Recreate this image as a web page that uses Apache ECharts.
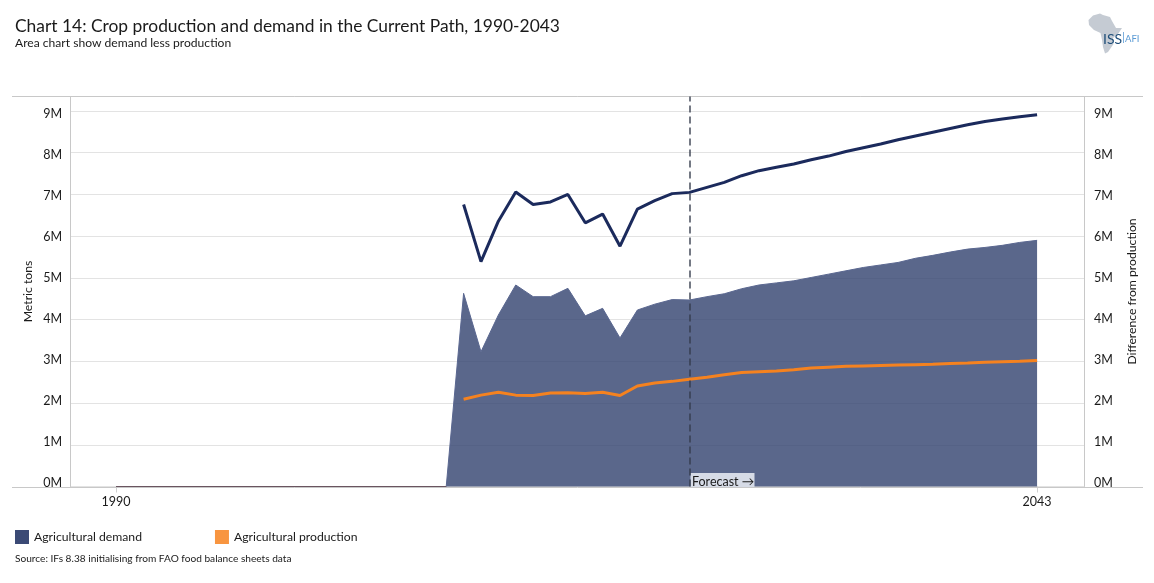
<!DOCTYPE html>
<html>
<head>
<meta charset="utf-8">
<style>html,body{margin:0;padding:0;background:#fff}#c{width:1154px;height:583px}</style>
<script src="https://cdn.jsdelivr.net/npm/echarts@6/dist/echarts.min.js"></script>
</head>
<body>
<div id="c"></div>
<script>
var years = [2010,2011,2012,2013,2014,2015,2016,2017,2018,2019,2020,2021,2022,2023,2024,2025,2026,2027,2028,2029,2030,2031,2032,2033,2034,2035,2036,2037,2038,2039,2040,2041,2042,2043];
var demand = [6.76,5.39,6.36,7.06,6.76,6.82,7.0,6.32,6.53,5.76,6.65,6.85,7.02,7.05,7.17,7.29,7.45,7.57,7.65,7.73,7.83,7.92,8.03,8.12,8.21,8.31,8.40,8.49,8.58,8.67,8.75,8.81,8.86,8.91];
var production = [2.09,2.19,2.26,2.19,2.18,2.24,2.25,2.23,2.26,2.18,2.41,2.48,2.52,2.57,2.62,2.68,2.73,2.75,2.77,2.80,2.84,2.86,2.88,2.89,2.90,2.91,2.92,2.93,2.95,2.96,2.98,2.99,3.00,3.02];
var difference = [4.63,3.23,4.11,4.83,4.55,4.55,4.75,4.09,4.27,3.56,4.23,4.37,4.48,4.47,4.55,4.62,4.74,4.83,4.88,4.93,5.01,5.09,5.17,5.25,5.31,5.37,5.47,5.54,5.62,5.69,5.73,5.78,5.85,5.90];
var zeroYears = [1990,1991,1992,1993,1994,1995,1996,1997,1998,1999,2000,2001,2002,2003,2004,2005,2006,2007,2008,2009];
var xTickLabels = [1990,2043];
var forecastYear = 2023;
var FONT = 'Lato';

var pairs = function(xs, ys){ return xs.map(function(x,i){ return [x, ys[i]]; }); };
var zeroData = zeroYears.map(function(y){ return [y,0]; });
var areaData = zeroData.concat(pairs(years, difference));

var xBase = {type:'value', min:1987.35, max:2045.7, splitLine:{show:false}};
var labelColor = '#1a1a1a';

var chart = echarts.init(document.getElementById('c'), null, {renderer:'canvas'});
chart.setOption({
  animation:false,
  backgroundColor:'#fff',
  textStyle:{fontFamily:FONT},
  grid:[
    {left:70, right:70, top:96.5, height:390},
    {left:70, right:70, top:114, height:369}
  ],
  xAxis:[
    Object.assign({}, xBase, {
      gridIndex:0,
      axisLine:{show:false},
      axisTick:{show:true, customValues:xTickLabels, length:6, lineStyle:{color:'#d0d0d0'}},
      axisLabel:{show:true, customValues:xTickLabels, margin:9, fontSize:12.5, color:labelColor, fontFamily:FONT,
        formatter:function(v){return String(v);}}
    }),
    Object.assign({}, xBase, {gridIndex:1, show:false})
  ],
  yAxis:[
    {type:'value', gridIndex:0, min:0, max:9.348, interval:1, position:'left',
      name:'Metric tons', nameLocation:'middle', nameGap:36, nameRotate:90,
      nameTextStyle:{fontSize:12.2, color:labelColor, fontFamily:FONT},
      axisLine:{show:true, lineStyle:{color:'#c8c8c8'}}, axisTick:{show:false}, axisLabel:{show:false},
      splitLine:{show:true, lineStyle:{color:'#e3e3e3', width:1}}},
    {type:'value', gridIndex:0, min:0, max:9.348, interval:1, position:'right',
      name:'Difference from production', nameLocation:'middle', nameGap:42, nameRotate:90,
      nameTextStyle:{fontSize:12.2, color:labelColor, fontFamily:FONT},
      axisLine:{show:true, lineStyle:{color:'#c8c8c8'}}, axisTick:{show:false}, axisLabel:{show:false},
      splitLine:{show:false}},
    {type:'value', gridIndex:1, min:0, max:9, interval:1, position:'left',
      axisLine:{show:false}, axisTick:{show:false}, splitLine:{show:false},
      axisLabel:{show:true, margin:8, fontSize:12.5, color:labelColor, fontFamily:FONT,
        formatter:function(v){return v+'M';}}},
    {type:'value', gridIndex:1, min:0, max:9, interval:1, position:'right',
      axisLine:{show:false}, axisTick:{show:false}, splitLine:{show:false},
      axisLabel:{show:true, margin:10, fontSize:12.5, color:labelColor, fontFamily:FONT,
        formatter:function(v){return v+'M';}}}
  ],
  legend:{
    left:15, top:530, padding:0, orient:'horizontal', itemWidth:14, itemHeight:14, itemGap:73, icon:'rect',
    textStyle:{fontSize:12.2, color:'#1a1a1a', fontFamily:FONT, padding:[4,0,0,0]},
    data:[
      {name:'Agricultural demand', icon:'rect', itemStyle:{color:'#3b4a75', opacity:1}, lineStyle:{width:0,opacity:0}},
      {name:'Agricultural production', icon:'rect', itemStyle:{color:'#f89540', opacity:1}, lineStyle:{width:0,opacity:0}}
    ]
  },
  series:[
    {name:'Demand less production', type:'line', xAxisIndex:0, yAxisIndex:1, data:areaData, showSymbol:false, symbol:'none',
      lineStyle:{color:'#5a6790', width:1}, itemStyle:{color:'#3b4a75'},
      areaStyle:{color:'#344470', opacity:0.81}, z:2,
      markLine:{silent:true, symbol:'none', animation:false, label:{show:false},
        lineStyle:{color:'#333a4a', type:[7,4], width:1.6, opacity:.85},
        data:[{xAxis:forecastYear}]}},
    {name:'Zero baseline', type:'line', xAxisIndex:0, yAxisIndex:1, data:zeroData, showSymbol:false, symbol:'none',
      lineStyle:{color:'#6a5560', width:1.2}, z:3},
    {name:'Agricultural demand', type:'line', xAxisIndex:0, yAxisIndex:0, data:pairs(years,demand), showSymbol:false, symbol:'none',
      lineStyle:{color:'#1b2a5c', width:3}, itemStyle:{color:'#1b2a5c'}, z:4},
    {name:'Agricultural production', type:'line', xAxisIndex:0, yAxisIndex:0, data:pairs(years,production), showSymbol:false, symbol:'none',
      lineStyle:{color:'#f5821f', width:3}, itemStyle:{color:'#f5821f'}, z:4}
  ],
  graphic:[
    {type:'line', z:1, shape:{x1:12,y1:96.5,x2:1143,y2:96.5}, style:{stroke:'#c8c8c8',lineWidth:1}},
    {type:'line', z:1, shape:{x1:12,y1:487.5,x2:1143,y2:487.5}, style:{stroke:'#c8c8c8',lineWidth:1}},
    {type:'text', z:10, left:15, top:18, style:{text:'Chart 14: Crop production and demand in the Current Path, 1990-2043', font:'17.4px '+FONT, fill:'#1a1a1a'}},
    {type:'text', z:10, left:15, top:37, style:{text:'Area chart show demand less production', font:'12.1px '+FONT, fill:'#1a1a1a'}},
    {type:'text', z:10, left:15, top:554, style:{text:'Source: IFs 8.38 initialising from FAO food balance sheets data', font:'10.15px '+FONT, fill:'#1a1a1a'}},
    {type:'rect', z:5, shape:{x:690.5,y:473,width:64,height:14}, style:{fill:'#d6dbe6'}},
    {type:'text', z:6, left:692, top:475.5, style:{text:'Forecast \u2192', font:'12.5px '+FONT, fill:'#1a1a1a'}},
    {type:'polygon', z:9, shape:{points:[[1088.5,20],[1093,15.5],[1100,13.5],[1103,15],[1110,17],[1112,21],[1116,28],[1122,28],[1118,34],[1113,38],[1113.5,44],[1108,52],[1105,53.5],[1103,47],[1102,40],[1100.5,33],[1094,30],[1089,25]]}, style:{fill:'#c5cbd3'}},
    {type:'text', z:10, left:1103, top:32, style:{text:'ISS', font:'14px '+FONT, fill:'#1f4e79'}},
    {type:'text', z:10, left:1122, top:32, style:{text:'|', font:'11px '+FONT, fill:'#5b9bd5'}},
    {type:'text', z:10, left:1125, top:34, style:{text:'AFI', font:'9.5px '+FONT, fill:'#5b9bd5'}}
  ]
});
</script>
</body>
</html>
